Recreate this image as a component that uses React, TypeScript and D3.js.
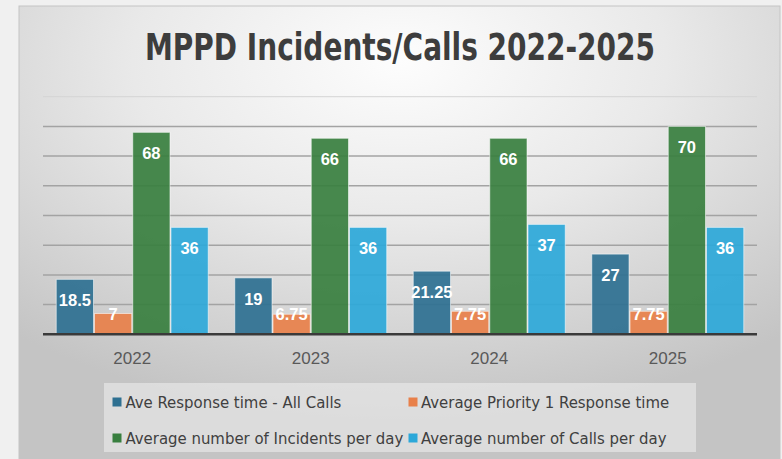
import React from "react";
import * as d3 from "d3";

const categories = ["2022", "2023", "2024", "2025"];
const seriesNames = [
  "Ave Response time - All Calls",
  "Average Priority 1 Response time",
  "Average number of Incidents per day",
  "Average number of Calls per day",
];
const aveResponse = [18.5, 19, 21.25, 27];
const priority1 = [7, 6.75, 7.75, 7.75];
const incidents = [68, 66, 66, 70];
const calls = [36, 36, 37, 36];
const seriesColors = ["#2e7091", "#e8804a", "#387f3f", "#2ca8d9"];
const yTicks = [10, 20, 30, 40, 50, 60, 70, 80];
const labelText = [
  ["18.5", "19", "21.25", "27"],
  ["7", "6.75", "7.75", "7.75"],
  ["68", "66", "66", "70"],
  ["36", "36", "37", "36"],
];

const W = 782;
const H = 459;

export default function App() {
  const series = [aveResponse, priority1, incidents, calls];
  const x0 = d3
    .scaleBand<string>()
    .domain(categories)
    .range([43, 757])
    .paddingInner(0.143)
    .paddingOuter(0.0714);
  const x1 = d3
    .scaleBand<number>()
    .domain(d3.range(series.length))
    .range([0, x0.bandwidth()])
    .padding(0);
  const y = d3.scaleLinear().domain([0, 80]).range([334.3, 96.7]);
  const narrow = "'Liberation Sans Narrow', 'DejaVu Sans Condensed', 'Arial Narrow', sans-serif";
  const legendPos = [
    { mx: 112.5, tx: 125.5, cy: 402 },
    { mx: 408.5, tx: 421, cy: 402 },
    { mx: 112.5, tx: 125.5, cy: 438 },
    { mx: 408.5, tx: 421, cy: 438 },
  ];
  return (
    <div style={{ position: "fixed", left: 0, top: 0, width: W, height: H, background: "#f0f0f0" }}>
      <svg width={W} height={H} style={{ display: "block" }}>
        <defs>
          <radialGradient id="bg" cx="0.5" cy="0.12" r="0.78" gradientUnits="objectBoundingBox">
            <stop offset="0" stopColor="#fdfdfd" />
            <stop offset="0.45" stopColor="#e9e9e9" />
            <stop offset="1" stopColor="#c4c4c4" />
          </radialGradient>
        </defs>
        <rect x={0} y={0} width={W} height={H} fill="#f0f0f0" />
        <rect x={19} y={6} width={761} height={460} fill="url(#bg)" stroke="#c4c4c4" strokeWidth={1} />
        <text
          x={400}
          y={60}
          textAnchor="middle"
          fontFamily={narrow}
          fontWeight="bold"
          fontSize={37}
          textLength={510}
          lengthAdjust="spacingAndGlyphs"
          fill="#3d3d3d"
        >
          MPPD Incidents/Calls 2022-2025
        </text>
        {yTicks.map((t) => (
          <line
            key={t}
            x1={43}
            x2={757}
            y1={y(t)}
            y2={y(t)}
            stroke={t === 80 ? "#d4d4d4" : "#a3a3a3"}
            strokeWidth={t === 80 ? 1 : 1.5}
          />
        ))}
        {categories.map((c, ci) => (
          <g key={c} transform={`translate(${x0(c)},0)`}>
            {series.map((s, si) => (
              <rect
                key={si}
                x={x1(si)! + 0.5}
                y={y(s[ci])}
                width={x1.bandwidth() - 1}
                height={y(0) - y(s[ci])}
                fill={seriesColors[si]}
                fillOpacity={0.92}
                stroke="#ffffff"
                strokeOpacity={0.55}
                strokeWidth={1}
              />
            ))}
          </g>
        ))}
        <line x1={43} x2={757} y1={y(0)} y2={y(0)} stroke="#3a3a3a" strokeWidth={2.5} />
        {categories.map((c, ci) => (
          <g key={c + "l"} transform={`translate(${x0(c)},0)`}>
            {series.map((s, si) => (
              <text
                key={si}
                x={x1(si)! + x1.bandwidth() / 2}
                y={Math.min(y(s[ci]) + 21, y(0) - 20)}
                textAnchor="middle"
                dominantBaseline="central"
                fontFamily="'Liberation Sans', Arial, Helvetica, sans-serif"
                fontWeight="bold"
                fontSize={16.5}
                fill="#ffffff"
              >
                {labelText[si][ci]}
              </text>
            ))}
            <text
              x={x0.bandwidth() / 2}
              y={358}
              textAnchor="middle"
              dominantBaseline="central"
              fontFamily="'Liberation Sans', Arial, Helvetica, sans-serif"
              fontSize={17}
              fill="#595959"
            >
              {c}
            </text>
          </g>
        ))}
        <rect x={104} y={383} width={592} height={69} fill="#ececec" fillOpacity={0.6} />
        {seriesNames.map((n, i) => (
          <g key={n}>
            <rect
              x={legendPos[i].mx}
              y={legendPos[i].cy - 4.5}
              width={9}
              height={9}
              fill={seriesColors[i]}
            />
            <text
              x={legendPos[i].tx}
              y={legendPos[i].cy}
              dominantBaseline="central"
              fontFamily={narrow}
              fontSize={16.6}
              fill="#404040"
            >
              {n}
            </text>
          </g>
        ))}
      </svg>
    </div>
  );
}
